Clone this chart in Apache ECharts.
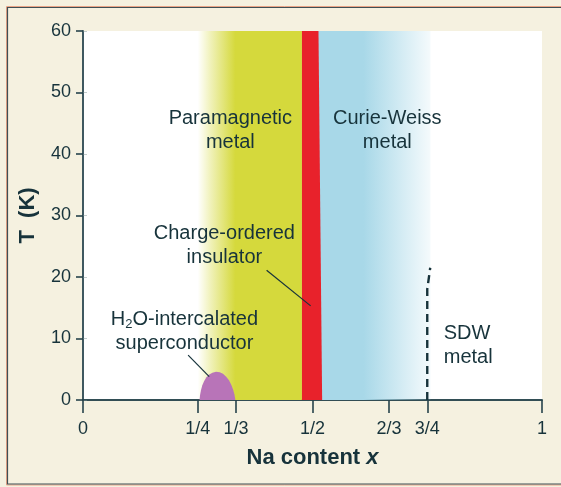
<!DOCTYPE html>
<html><head><meta charset="utf-8">
<script src="https://cdn.jsdelivr.net/npm/echarts@6/dist/echarts.min.js"></script>
<style>html,body{margin:0;padding:0;background:#f5f1e0}#c{width:561px;height:487px}</style>
</head><body><div id="c"></div>
<script>
// ---- data ----
const xTickValues = [0, 1/4, 1/3, 1/2, 2/3, 3/4, 1];
const xTickLabels = ['0', '1/4', '1/3', '1/2', '2/3', '3/4', '1'];
const yMin = 0, yMax = 60, yStep = 10;

const paramagneticBand = [[0.25, 60], [0.477, 60]];
const chargeOrderedBand = [[0.477, 60], [0.513, 60], [0.521, 0]];
const curieWeissBand = [[0.505, 60], [0.757, 60]];
const superconductorDome = [[0.254, 0], [0.255, 0.8], [0.257, 1.6], [0.260, 2.4], [0.264, 3.1], [0.269, 3.7], [0.275, 4.15], [0.282, 4.45], [0.290, 4.6], [0.298, 4.5], [0.305, 4.25], [0.312, 3.8], [0.318, 3.2], [0.323, 2.5], [0.327, 1.7], [0.330, 0.9], [0.332, 0]];
const sdwBoundary = [[0.75, 0], [0.75, 18], [0.7565, 21.5]];

const regionLabels = ['Paramagnetic\nmetal', 'Curie-Weiss\nmetal', 'Charge-ordered\ninsulator', '{t|H}{sub|2}{t|O-intercalated}\nsuperconductor', 'SDW\nmetal'];
const regionLabelPos = [[0.321, 43.9], [0.663, 43.9], [0.308, 25.1], [0.221, 11.1], [0.786, 8.8]];
const regionLabelAlign = ['center', 'center', 'center', 'center', 'left'];
const chargeLeader = [[0.400, 21.1], [0.496, 15.3]];
const scLeader = [[0.229, 7.3], [0.275, 3.8]];

// ---- styling ----
const FONT = "'Liberation Sans', Arial, sans-serif";
const AX = '#26434b';
const TXT = '#17333b';

const chart = echarts.init(document.getElementById('c'), null, {renderer: 'canvas'});

function hGrad(stops) {
  return new echarts.graphic.LinearGradient(0, 0, 1, 0, stops);
}

const option = {
  animation: false,
  backgroundColor: '#f5f1e0',
  textStyle: {fontFamily: FONT},
  graphic: [
    {type: 'rect', silent: true, shape: {x: 6.5, y: 6.5, width: 570, height: 478.5}, style: {fill: 'none', stroke: '#e9a487', lineWidth: 1}, z: 100},
    {type: 'rect', silent: true, shape: {x: 7.5, y: 7.5, width: 570, height: 476.5}, style: {fill: 'none', stroke: '#3f4f55', lineWidth: 1.2}, z: 100}
  ],
  grid: {left: 83, right: 19, top: 31, bottom: 87, show: true, backgroundColor: '#ffffff', borderWidth: 0, outerBoundsMode: 'none'},
  xAxis: [{
    type: 'value', min: 0, max: 1, position: 'bottom',
    axisLine: {show: true, lineStyle: {color: AX, width: 1.6}},
    axisTick: {show: true, length: 13, customValues: xTickValues, lineStyle: {color: AX, width: 1.6}},
    axisLabel: {show: true, customValues: xTickValues, margin: 20, fontSize: 18, color: TXT, fontFamily: FONT,
      formatter: function (v) { const i = xTickValues.findIndex(t => Math.abs(t - v) < 1e-6); return i >= 0 ? xTickLabels[i] : ''; }},
    splitLine: {show: false},
    name: 'Na content {i|x}', nameLocation: 'middle', nameGap: 47,
    nameTextStyle: {fontSize: 22, fontWeight: 'bold', color: TXT, fontFamily: FONT,
      rich: {i: {fontSize: 22, fontWeight: 'bold', fontStyle: 'italic', color: TXT, fontFamily: FONT}}}
  }, {
    type: 'value', min: 0, max: 1, position: 'top',
    axisLine: {show: true, lineStyle: {color: AX, width: 1.6}},
    axisTick: {show: false}, axisLabel: {show: false}, splitLine: {show: false}
  }],
  yAxis: [{
    type: 'value', min: yMin, max: yMax, interval: yStep, position: 'left',
    axisLine: {show: true, lineStyle: {color: AX, width: 1.6}},
    axisTick: {show: true, length: 7, lineStyle: {color: AX, width: 1.6}},
    axisLabel: {margin: 12, fontSize: 18, color: TXT, fontFamily: FONT},
    splitLine: {show: false},
    name: 'T  (K)', nameLocation: 'middle', nameGap: 44,
    nameTextStyle: {fontSize: 22, fontWeight: 'bold', color: TXT, fontFamily: FONT}
  }, {
    type: 'value', min: yMin, max: yMax, interval: yStep, position: 'right',
    axisLine: {show: true, lineStyle: {color: '#3a555c', width: 1.5}},
    axisTick: {show: true, length: 4, lineStyle: {color: 'rgba(120,140,140,0.45)', width: 1}},
    axisLabel: {show: false}, splitLine: {show: false}
  }],
  series: [
    {type: 'line', data: paramagneticBand, symbol: 'none', silent: true, lineStyle: {width: 0}, z: 1,
      areaStyle: {opacity: 1, color: hGrad([
        {offset: 0, color: 'rgba(213,217,60,0)'},
        {offset: 0.12, color: 'rgba(213,217,60,0.35)'},
        {offset: 0.36, color: 'rgba(213,217,60,1)'},
        {offset: 1, color: 'rgba(213,217,60,1)'}])}},
    {type: 'line', data: curieWeissBand, symbol: 'none', silent: true, lineStyle: {width: 0}, z: 1,
      areaStyle: {opacity: 1, color: hGrad([
        {offset: 0, color: 'rgba(168,216,232,1)'},
        {offset: 0.42, color: 'rgba(168,216,232,1)'},
        {offset: 1, color: 'rgba(168,216,232,0.12)'}])}},
    {type: 'line', data: chargeOrderedBand, symbol: 'none', silent: true, lineStyle: {width: 0}, z: 2,
      areaStyle: {opacity: 1, color: '#e8222b'}},
    {type: 'line', data: superconductorDome, symbol: 'none', smooth: false, silent: true, lineStyle: {width: 0}, z: 3,
      areaStyle: {opacity: 1, color: '#b874b8'}},
    {type: 'line', data: sdwBoundary, symbol: 'none', silent: true, z: 4,
      lineStyle: {color: '#17333b', width: 2.4, type: [8, 5]}},
    {type: 'line', data: chargeLeader, symbol: 'none', silent: true, z: 4, lineStyle: {color: '#17333b', width: 1.2}},
    {type: 'line', data: scLeader, symbol: 'none', silent: true, z: 4, lineStyle: {color: '#17333b', width: 1.2}},
    {type: 'scatter', symbolSize: 0, silent: true, z: 5, itemStyle: {opacity: 1},
      data: regionLabelPos.map((p, i) => ({
        value: p,
        label: {show: true, position: 'inside', formatter: regionLabels[i], align: regionLabelAlign[i],
          verticalAlign: 'middle', fontSize: 20, lineHeight: 24, color: TXT, fontFamily: FONT,
          rich: {
            t: {fontSize: 20, color: TXT, fontFamily: FONT, lineHeight: 24},
            sub: {fontSize: 13, color: TXT, fontFamily: FONT, lineHeight: 24, padding: [10, 0, 0, 0]}
          }}
      }))}
  ]
};
chart.setOption(option);
</script></body></html>
